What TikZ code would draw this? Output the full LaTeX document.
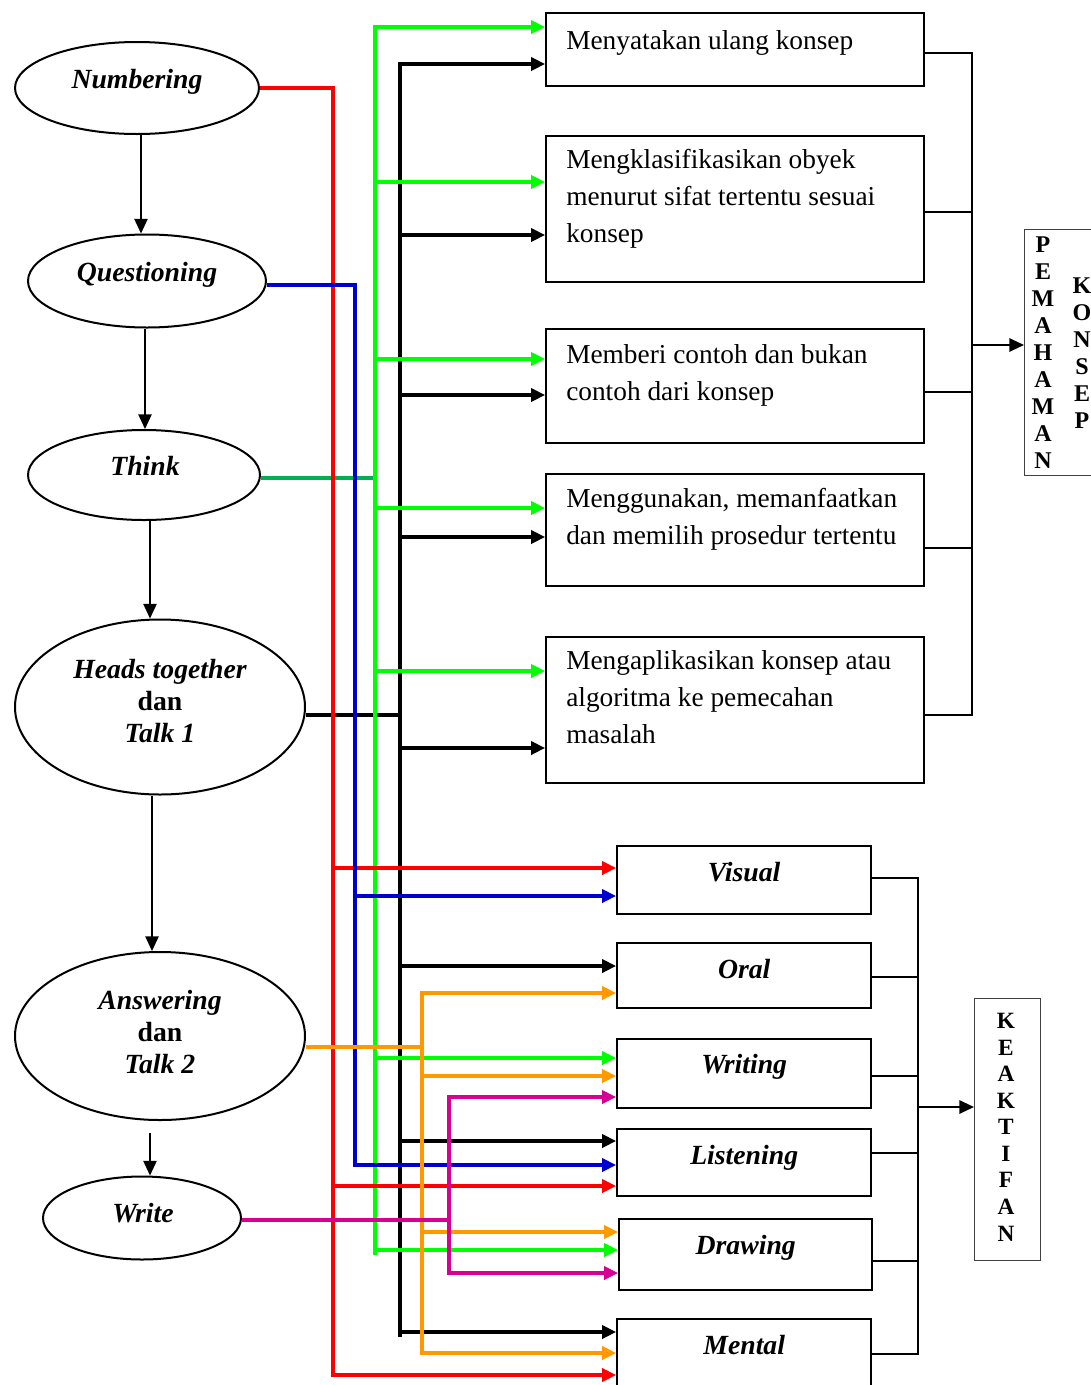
\documentclass[tikz,border=0pt]{standalone}
\usepackage{fontspec}
\setmainfont{Liberation Serif}
\usetikzlibrary{arrows.meta,shapes.geometric}
\definecolor{cred}{RGB}{255,0,0}
\definecolor{cblue}{RGB}{0,0,204}
\definecolor{cgreen}{RGB}{0,255,0}
\definecolor{cdgreen}{RGB}{0,176,80}
\definecolor{corange}{RGB}{255,153,0}
\definecolor{cmag}{RGB}{214,0,147}
\begin{document}
\begin{tikzpicture}[x=0.75pt,y=-0.75pt,
  ell/.style={draw,ellipse,line width=1.5pt,inner sep=0pt},
  etext/.style={font=\fontsize{20.8}{24}\selectfont\bfseries\itshape,align=center,inner sep=0pt,anchor=base},
  rbox/.style={draw,line width=1.8pt,inner sep=0pt,anchor=north west,minimum width=283.5pt},
  sbox/.style={draw,line width=1.8pt,inner sep=0pt,anchor=north west,minimum width=190.5pt},
  rtext/.style={font=\fontsize{20.5}{27.4}\selectfont,align=left,inner sep=0pt,anchor=base west},
  stext/.style={font=\fontsize{20.8}{24}\selectfont\bfseries\itshape,inner sep=0pt,anchor=base},
  vbox/.style={draw=black!75,line width=1.1pt,inner sep=0pt,anchor=north west},
  vtext/.style={font=\fontsize{18}{20.2}\selectfont\bfseries,align=center,inner sep=0pt,anchor=base},
  flow/.style={line width=1.1pt,-{Triangle[length=11pt,width=10pt]}},
  bus/.style={line width=2.3pt},
  tipe/.style={-{Triangle[length=10.5pt,width=10pt]}},
  tips/.style={{Triangle[length=10.5pt,width=10pt]}-},
  tipb/.style={{Triangle[length=10.5pt,width=10pt]}-{Triangle[length=10.5pt,width=10pt]}},
  brk/.style={line width=1.5pt},
  brka/.style={line width=1.5pt,-{Triangle[length=11pt,width=10pt]}}
]
\clip (0,0) rectangle (1091,1385);

% ellipses
\node[ell,minimum width=183pt,minimum height=69pt] (num) at (137,88) {};
\node[etext] (tnum) at (137,88) {Numbering};
\node[ell,minimum width=178.5pt,minimum height=69.75pt] (q) at (147,281) {};
\node[etext] (tq) at (147,281) {Questioning};
\node[ell,minimum width=174pt,minimum height=67.5pt] (th) at (144,475) {};
\node[etext] (tth) at (145,475) {Think};
\node[ell,minimum width=217.5pt,minimum height=131.25pt] (ht) at (160,707) {};
\node[etext] (tht) at (160,742) {Heads together\\\upshape dan\\Talk 1};
\node[ell,minimum width=217.5pt,minimum height=126pt] (ans) at (160,1036) {};
\node[etext] (tans) at (160,1073) {Answering\\\upshape dan\\Talk 2};
\node[ell,minimum width=148.5pt,minimum height=62.25pt] (wr) at (142,1218) {};
\node[etext] (twr) at (143,1222) {Write};

\draw[flow] (num.south -| 141,0) -- (q.north -| 141,0);
\draw[flow] (q.south -| 145,0) -- (th.north -| 145,0);
\draw[flow] (th.south -| 150,0) -- (ht.north -| 150,0);
\draw[flow] (ht.south -| 152,0) -- (ans.north -| 152,0);
\draw[flow] (ans.south -| 150,0) ++(0,12) -- (wr.north -| 150,0);

% top boxes
\node[rbox,minimum height=54.75pt] (r1) at (545,12) {};
\node[rbox,minimum height=109.5pt] (r2) at (545,135) {};
\node[rbox,minimum height=85.5pt] (r3) at (545,328) {};
\node[rbox,minimum height=84pt] (r4) at (545,473) {};
\node[rbox,minimum height=109.5pt] (r5) at (545,636) {};
\node[rtext] (t1) at (566,49) {Menyatakan ulang konsep};
\node[rtext] (t2) at (566,242) {Mengklasifikasikan obyek\\menurut sifat tertentu sesuai\\konsep};
\node[rtext] (t3) at (566,400) {Memberi contoh dan bukan\\contoh dari konsep};
\node[rtext] (t4) at (566,544) {Menggunakan, memanfaatkan\\dan memilih prosedur tertentu};
\node[rtext] (t5) at (566,743) {Mengaplikasikan konsep atau\\algoritma ke pemecahan\\masalah};

% bottom boxes
\node[sbox,minimum height=51pt] (vis) at (616,845) {};
\node[sbox,minimum height=48.75pt] (oral) at (616,942) {};
\node[sbox,minimum height=51.75pt] (writing) at (616,1038) {};
\node[sbox,minimum height=50.25pt] (list) at (616,1128) {};
\node[sbox,minimum width=189.75pt,minimum height=53.25pt] (drawing) at (618,1218) {};
\node[sbox,minimum height=75pt] (mental) at (616,1318) {};
\node[stext] (tvis) at (vis.center |- 0,881) {Visual};
\node[stext] (toral) at (oral.center |- 0,978) {Oral};
\node[stext] (twri) at (writing.center |- 0,1073) {Writing};
\node[stext] (tlis) at (list.center |- 0,1164) {Listening};
\node[stext] (tdra) at (drawing.center |- 0,1254) {Drawing};
\node[stext] (tmen) at (mental.center |- 0,1354) {Mental};

% result boxes
\node[vbox,minimum width=57pt,minimum height=184.5pt] (pk) at (1024,229) {};
\node[vtext] (tpm) at (1043,468) {P\\E\\M\\A\\H\\A\\M\\A\\N};
\node[vtext] (tks) at (1082,428) {K\\O\\N\\S\\E\\P};
\node[vbox,minimum width=49.5pt,minimum height=196.5pt] (kf) at (974,998) {};
\node[vtext,font=\fontsize{17.5}{19.9}\selectfont\bfseries] (tkf) at (1006,1241) {K\\E\\A\\K\\T\\I\\F\\A\\N};

% bus columns
\coordinate (xR) at (333,0);
\coordinate (xB) at (355,0);
\coordinate (xG) at (375,0);
\coordinate (xK) at (400,0);
\coordinate (xO) at (422,0);
\coordinate (xM) at (449,0);
\coordinate (xT) at (972,0);
\coordinate (xS) at (918,0);

% black
\draw[bus,black,tips] (r1.west |- 0,64) -| (xK |- 0,1337);
\draw[bus,black] (ht.east |- 0,715) -- (xK |- 0,715);
\foreach \yy/\nn in {235/r2,395/r3,537/r4,748/r5,966/oral,1141/list,1332/mental}
  \draw[bus,black,tipe] (xK |- 0,\yy) -- (\nn.west |- 0,\yy);

% green
\draw[bus,cdgreen] (th.east |- 0,478) -- (xG |- 0,478);
\draw[bus,cgreen,tips] (r1.west |- 0,27) -| (xG |- 0,1255);
\foreach \yy/\nn in {182/r2,359/r3,508/r4,671/r5,1058/writing,1250/drawing}
  \draw[bus,cgreen,tipe] (xG |- 0,\yy) -- (\nn.west |- 0,\yy);

% red
\draw[bus,cred,tipe] (num.east) -| (xR |- 0,1375) -- (mental.west |- 0,1375);
\foreach \yy/\nn in {868/vis,1186/list}
  \draw[bus,cred,tipe] (xR |- 0,\yy) -- (\nn.west |- 0,\yy);

% blue
\draw[bus,cblue,tipe] (q.east |- 0,285) -| (xB |- 0,1165) -- (list.west |- 0,1165);
\draw[bus,cblue,tipe] (xB |- 0,896) -- (vis.west |- 0,896);

% orange
\draw[bus,corange] (ans.east |- 0,1047) -- (xO |- 0,1047);
\draw[bus,corange,tipb] (oral.west |- 0,993) -| (xO |- 0,1353) -- (mental.west |- 0,1353);
\foreach \yy/\nn in {1076/writing,1232/drawing}
  \draw[bus,corange,tipe] (xO |- 0,\yy) -- (\nn.west |- 0,\yy);

% magenta
\draw[bus,cmag] (wr.east |- 0,1220) -- (xM |- 0,1220);
\draw[bus,cmag,tipb] (writing.west |- 0,1097) -| (xM |- 0,1273) -- (drawing.west |- 0,1273);

% brackets
\draw[brk] (r1.east |- 0,53) -| (xT |- 0,715) -- (r5.east |- 0,715);
\foreach \yy/\nn in {212/r2,392/r3,548/r4}
  \draw[brk] (\nn.east |- 0,\yy) -- (xT |- 0,\yy);
\draw[brka] (xT |- 0,345) -- (pk.west |- 0,345);

\draw[brk] (vis.east |- 0,878) -| (xS |- 0,1354) -- (mental.east |- 0,1354);
\foreach \yy/\nn in {977/oral,1076/writing,1153/list,1261/drawing}
  \draw[brk] (\nn.east |- 0,\yy) -- (xS |- 0,\yy);
\draw[brka] (xS |- 0,1107) -- (kf.west |- 0,1107);
\end{tikzpicture}
\end{document}
